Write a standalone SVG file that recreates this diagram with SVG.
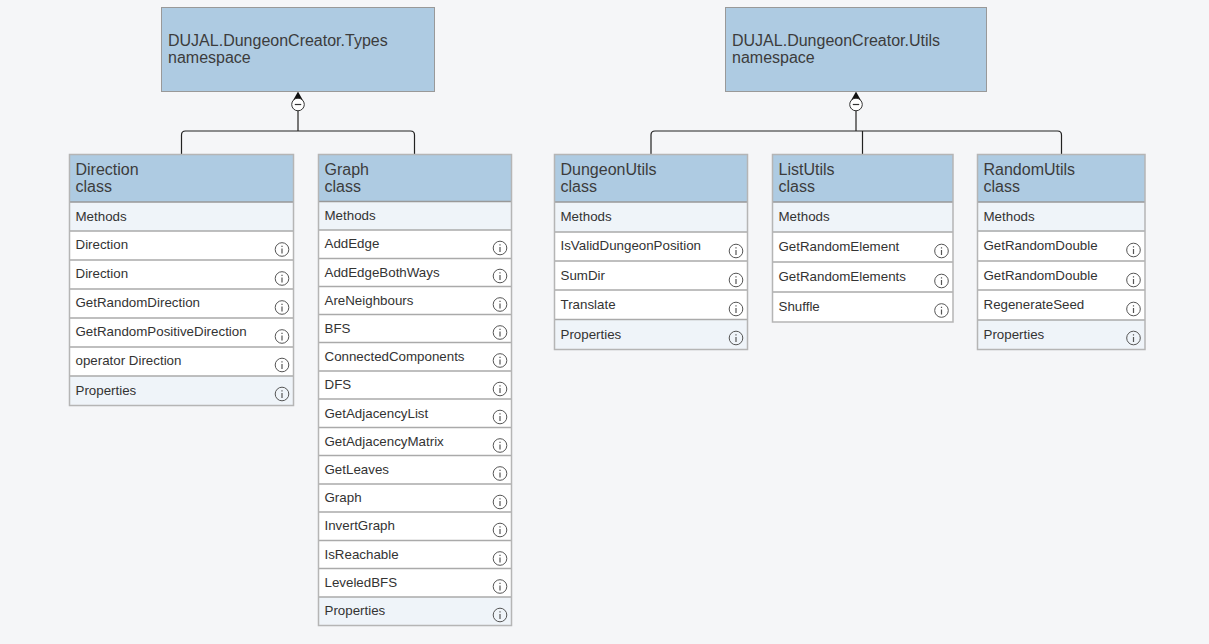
<svg xmlns="http://www.w3.org/2000/svg" width="1209" height="644" viewBox="0 0 1209 644">
<style>
.bg{fill:#f5f6f8}
.n{fill:#aecbe2;stroke:#999;stroke-width:1}
.h{fill:#aecbe2;stroke:none}
.s{fill:#eff4f9}
.r{fill:#fff}
.d{stroke:#aaa;stroke-width:1.5;fill:none}
.u{stroke:#999;stroke-width:1.5;fill:none}
.o{fill:none;stroke:#b5b5b5;stroke-width:1.5}
.t{font-family:"Liberation Sans",Arial,sans-serif;font-size:16px;fill:#3c3c3c}
.i{font-family:"Liberation Sans",Arial,sans-serif;font-size:13.33px;fill:#333}
.c{fill:none;stroke:#222;stroke-width:1.2}
.g{fill:none;stroke:#777;stroke-width:2}
.m{fill:#fff;stroke:#333;stroke-width:1}
.mi{fill:none;stroke:#333;stroke-width:1.2}
.ic{fill:none;stroke:#555;stroke-width:1}
.il{stroke:#555;stroke-width:1.2}
</style>
<defs>
<g id="info"><circle class="ic" r="6.8"/><path class="il" d="M0-3.8V-2.4M0-1V4"/></g>
<g id="col"><path d="M0 -13L-5 -4H5Z" fill="#111"/><circle class="m" r="6.3"/><path class="mi" d="M-3.2 0H3.2"/></g>
</defs>
<rect class="bg" width="1209" height="644"/>
<g id="connectors">
<path class="g" d="M298 110V131"/>
<path class="c" d="M181.500 154V135Q181.500 131 185.500 131H410.500Q414.500 131 414.500 135V154"/>
<use href="#col" x="298" y="104.500"/>
<path class="g" d="M856 110V131"/>
<path class="c" d="M651 154V135Q651 131 655 131H1057.500Q1061.500 131 1061.500 135V154M862.500 131V154"/>
<use href="#col" x="856" y="104.500"/>
</g>
<g id="types"><rect class="n" x="161.500" y="7.500" width="273" height="84"/><text class="t" x="168" y="46">DUJAL.DungeonCreator.Types</text><text class="t" x="168" y="63">namespace</text></g>
<g id="utils"><rect class="n" x="725.500" y="7.500" width="261" height="84"/><text class="t" x="732" y="46">DUJAL.DungeonCreator.Utils</text><text class="t" x="732" y="63">namespace</text></g>

<g id="direction">
<rect class="r" x="69.500" y="154.500" width="224" height="251"/>
<rect class="h" x="69.500" y="154.500" width="224" height="47.500"/>
<rect class="s" x="69.500" y="202" width="224" height="29"/><rect class="s" x="69.500" y="376" width="224" height="29.500"/>
<path class="u" d="M69.500 202H293.500"/><path class="d" d="M69.500 231H293.500M69.500 260H293.500M69.500 289H293.500M69.500 318H293.500M69.500 347H293.500M69.500 376H293.500"/>
<rect class="o" x="69.500" y="154.500" width="224" height="251"/>
<text class="t" x="75.500" y="175">Direction</text><text class="t" x="75.500" y="192">class</text>
<text class="i" x="75.500" y="221">Methods</text><text class="i" x="75.500" y="249">Direction</text><text class="i" x="75.500" y="278">Direction</text><text class="i" x="75.500" y="307">GetRandomDirection</text><text class="i" x="75.500" y="336">GetRandomPositiveDirection</text><text class="i" x="75.500" y="365">operator Direction</text><text class="i" x="75.500" y="395">Properties</text>
<use href="#info" x="282" y="249.500"/><use href="#info" x="282" y="278.500"/><use href="#info" x="282" y="307.500"/><use href="#info" x="282" y="336.500"/><use href="#info" x="282" y="365"/><use href="#info" x="282" y="394"/>
</g>

<g id="graph">
<rect class="r" x="318.500" y="154.500" width="193" height="471"/>
<rect class="h" x="318.500" y="154.500" width="193" height="47"/>
<rect class="s" x="318.500" y="201.500" width="193" height="28.500"/><rect class="s" x="318.500" y="597" width="193" height="28.500"/>
<path class="u" d="M318.500 201.500H511.500"/><path class="d" d="M318.500 230H511.500M318.500 258.500H511.500M318.500 286.500H511.500M318.500 314.500H511.500M318.500 342.500H511.500M318.500 371H511.500M318.500 399H511.500M318.500 427.500H511.500M318.500 455.500H511.500M318.500 484H511.500M318.500 512H511.500M318.500 540.500H511.500M318.500 568.500H511.500M318.500 597H511.500"/>
<rect class="o" x="318.500" y="154.500" width="193" height="471"/>
<text class="t" x="324.500" y="175">Graph</text><text class="t" x="324.500" y="192">class</text>
<text class="i" x="324.500" y="220">Methods</text><text class="i" x="324.500" y="248">AddEdge</text><text class="i" x="324.500" y="277">AddEdgeBothWays</text><text class="i" x="324.500" y="305">AreNeighbours</text><text class="i" x="324.500" y="333">BFS</text><text class="i" x="324.500" y="361">ConnectedComponents</text><text class="i" x="324.500" y="389">DFS</text><text class="i" x="324.500" y="418">GetAdjacencyList</text><text class="i" x="324.500" y="446">GetAdjacencyMatrix</text><text class="i" x="324.500" y="474">GetLeaves</text><text class="i" x="324.500" y="502">Graph</text><text class="i" x="324.500" y="530">InvertGraph</text><text class="i" x="324.500" y="559">IsReachable</text><text class="i" x="324.500" y="587">LeveledBFS</text><text class="i" x="324.500" y="615">Properties</text>
<use href="#info" x="500" y="248"/><use href="#info" x="500" y="276"/><use href="#info" x="500" y="304.500"/><use href="#info" x="500" y="332.500"/><use href="#info" x="500" y="360.500"/><use href="#info" x="500" y="389"/><use href="#info" x="500" y="417"/><use href="#info" x="500" y="445.500"/><use href="#info" x="500" y="473.500"/><use href="#info" x="500" y="502"/><use href="#info" x="500" y="530"/><use href="#info" x="500" y="558.500"/><use href="#info" x="500" y="586.500"/><use href="#info" x="500" y="615"/>
</g>

<g id="dungeonutils">
<rect class="r" x="554.500" y="154.500" width="193" height="195"/>
<rect class="h" x="554.500" y="154.500" width="193" height="47.500"/>
<rect class="s" x="554.500" y="202" width="193" height="30"/><rect class="s" x="554.500" y="319.500" width="193" height="30"/>
<path class="u" d="M554.500 202H747.500"/><path class="d" d="M554.500 232H747.500M554.500 261H747.500M554.500 290H747.500M554.500 319.500H747.500"/>
<rect class="o" x="554.500" y="154.500" width="193" height="195"/>
<text class="t" x="560.500" y="175">DungeonUtils</text><text class="t" x="560.500" y="192">class</text>
<text class="i" x="560.500" y="221">Methods</text><text class="i" x="560.500" y="250">IsValidDungeonPosition</text><text class="i" x="560.500" y="280">SumDir</text><text class="i" x="560.500" y="309">Translate</text><text class="i" x="560.500" y="339">Properties</text>
<use href="#info" x="736" y="251"/><use href="#info" x="736" y="280"/><use href="#info" x="736" y="309"/><use href="#info" x="736" y="338"/>
</g>

<g id="listutils">
<rect class="r" x="772.500" y="154.500" width="180.500" height="167.500"/>
<rect class="h" x="772.500" y="154.500" width="180.500" height="47.500"/>
<rect class="s" x="772.500" y="202" width="180.500" height="30"/>
<path class="u" d="M772.500 202H953"/><path class="d" d="M772.500 232H953M772.500 262H953M772.500 292H953"/>
<rect class="o" x="772.500" y="154.500" width="180.500" height="167.500"/>
<text class="t" x="778.500" y="175">ListUtils</text><text class="t" x="778.500" y="192">class</text>
<text class="i" x="778.500" y="221">Methods</text><text class="i" x="778.500" y="251">GetRandomElement</text><text class="i" x="778.500" y="281">GetRandomElements</text><text class="i" x="778.500" y="311">Shuffle</text>
<use href="#info" x="941.500" y="251"/><use href="#info" x="941.500" y="281"/><use href="#info" x="941.500" y="310.500"/>
</g>

<g id="randomutils">
<rect class="r" x="977.500" y="154.500" width="167.500" height="195"/>
<rect class="h" x="977.500" y="154.500" width="167.500" height="47.500"/>
<rect class="s" x="977.500" y="202" width="167.500" height="30"/><rect class="s" x="977.500" y="320" width="167.500" height="29.500"/>
<path class="u" d="M977.500 202H1145"/><path class="d" d="M977.500 231H1145M977.500 261H1145M977.500 290H1145M977.500 320H1145"/>
<rect class="o" x="977.500" y="154.500" width="167.500" height="195"/>
<text class="t" x="983.500" y="175">RandomUtils</text><text class="t" x="983.500" y="192">class</text>
<text class="i" x="983.500" y="221">Methods</text><text class="i" x="983.500" y="250">GetRandomDouble</text><text class="i" x="983.500" y="280">GetRandomDouble</text><text class="i" x="983.500" y="309">RegenerateSeed</text><text class="i" x="983.500" y="339">Properties</text>
<use href="#info" x="1133.500" y="250"/><use href="#info" x="1133.500" y="280"/><use href="#info" x="1133.500" y="309"/><use href="#info" x="1133.500" y="338"/>
</g>
</svg>
